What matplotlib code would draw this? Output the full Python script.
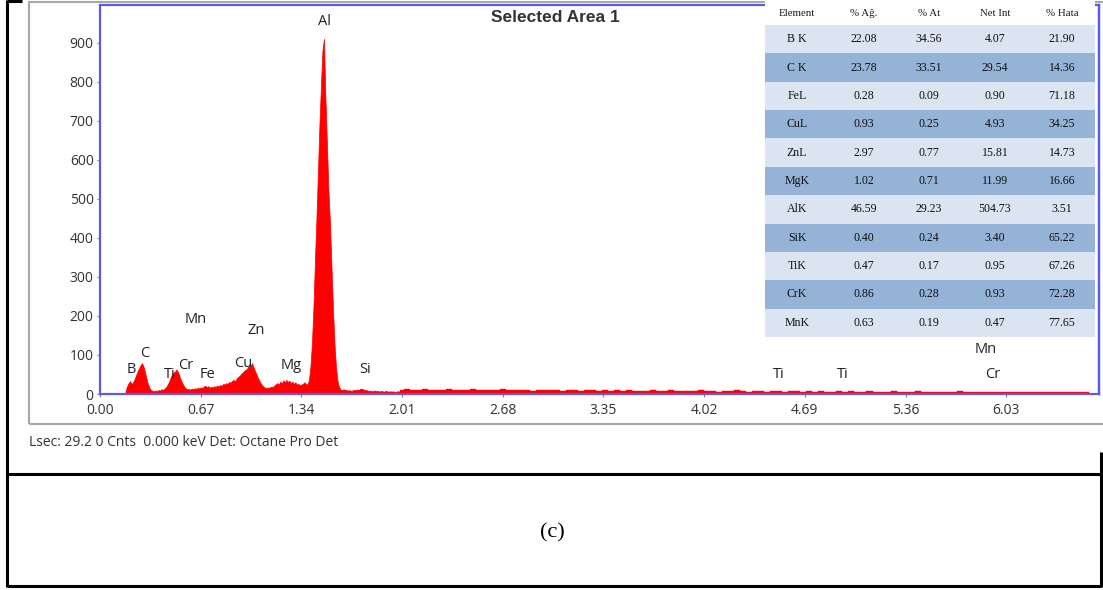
import numpy as np
import matplotlib
matplotlib.use("Agg")
import matplotlib.pyplot as plt
from matplotlib.patches import Rectangle
from matplotlib.lines import Line2D

W, H = 1103, 590

# ---- EDS spectrum (counts per channel) ----
# fine channels: 0.17 .. 1.99 keV, 0.01 keV apart
fine_start, fine_step = 0.17, 0.01
counts_fine = [
    8, 20, 28, 33, 26, 30, 38, 48, 58, 66,          # 0.17-0.26
    74, 79, 70, 55, 38, 24, 15, 10, 8, 7,           # 0.27-0.36
    9, 8, 10, 9, 12, 11, 14, 18, 24, 32,            # 0.37-0.46
    42, 50, 55, 58, 63, 55, 45, 34, 26, 19,         # 0.47-0.56
    15, 12, 13, 11, 14, 12, 15, 13, 16, 14,         # 0.57-0.66
    17, 15, 19, 21, 18, 20, 16, 18, 17, 20,         # 0.67-0.76
    18, 22, 19, 23, 21, 26, 24, 28, 26, 31,         # 0.77-0.86
    29, 34, 36, 33, 40, 44, 47, 52, 55, 60,         # 0.87-0.96
    62, 66, 72, 68, 79, 70, 60, 52, 42, 34,         # 0.97-1.06
    27, 22, 18, 16, 15, 17, 16, 19, 18, 22,         # 1.07-1.16
    25, 28, 24, 32, 27, 35, 30, 36, 31, 34,         # 1.17-1.26
    28, 32, 26, 30, 24, 26, 22, 24, 26, 30,         # 1.27-1.36
    26, 24, 35, 70, 130, 220, 340, 450, 570, 690,   # 1.37-1.46
    790, 880, 910, 760, 640, 520, 440, 330, 220, 130, # 1.47-1.56
    70, 35, 18, 12, 10, 12, 11, 10, 9, 10,          # 1.57-1.66
    8, 9, 11, 9, 12, 10, 13, 14, 12, 11,            # 1.67-1.76
    10, 9, 8, 9, 7, 8, 9, 7, 8, 6,                  # 1.77-1.86
    8, 7, 6, 8, 7, 6, 7, 6, 7, 5,                   # 1.87-1.96
    6, 7, 6,                                        # 1.97-1.99
]
# coarse channels: 2.00 .. 6.60 keV, 0.04 keV apart
coarse_start, coarse_step = 2.00, 0.04
counts_coarse = [
    10, 12, 9, 11, 13, 10, 11, 9, 12, 10,
    11, 9, 12, 10, 9, 11, 10, 12, 9, 10,
    9, 11, 8, 10, 9, 11, 9, 8, 10, 9,
    8, 10, 9, 8, 9, 7, 9, 8, 10, 8,
    8, 7, 9, 8, 7, 9, 8, 7, 8, 7,
    9, 7, 8, 6, 8, 7, 9, 7, 6, 8,
    7, 6, 8, 7, 6, 7, 8, 6, 7, 6,
    7, 6, 5, 7, 6, 7, 5, 6, 7, 6,
    6, 5, 7, 6, 5, 6, 7, 5, 6, 5,
    6, 5, 6, 7, 5, 6, 5, 6, 5, 6,
    5, 6, 5, 6, 5, 5, 6, 5, 4, 5,
    5, 4, 5, 5, 4, 0,
]

# element line labels: (symbol, keV, counts)
peak_labels = [
    ("Al", 1.497, 954), ("B", 0.206, 62), ("C", 0.300, 103),
    ("Ti", 0.466, 51), ("Cr", 0.572, 72), ("Fe", 0.712, 51),
    ("Mn", 0.639, 192), ("Zn", 1.038, 162), ("Cu", 0.951, 79),
    ("Mg", 1.271, 74), ("Si", 1.763, 62), ("Ti", 4.518, 51),
    ("Ti", 4.944, 51), ("Mn", 5.895, 115), ("Cr", 5.941, 49),
]

x_ticks = [0.00, 0.67, 1.34, 2.01, 2.68, 3.35, 4.02, 4.69, 5.36, 6.03]
y_ticks = [0, 100, 200, 300, 400, 500, 600, 700, 800, 900]

# ---- quantification table ----
table_header = ["Element", "% Ağ.", "% At", "Net Int", "% Hata"]
elements = ["B K", "C K", "FeL", "CuL", "ZnL", "MgK", "AlK", "SiK", "TiK", "CrK", "MnK"]
wt_pct = [22.08, 23.78, 0.28, 0.93, 2.97, 1.02, 46.59, 0.40, 0.47, 0.86, 0.63]
at_pct = [34.56, 33.51, 0.09, 0.25, 0.77, 0.71, 29.23, 0.24, 0.17, 0.28, 0.19]
net_int = [4.07, 29.54, 0.90, 4.93, 15.81, 11.99, 504.73, 3.40, 0.95, 0.93, 0.47]
err_pct = [21.90, 14.36, 71.18, 34.25, 14.73, 16.66, 3.51, 65.22, 67.26, 72.28, 77.65]

status_text = "Lsec: 29.2 0 Cnts  0.000 keV Det: Octane Pro Det"
title_text = "Selected Area 1"
caption_text = "(c)"

UI_FONT = ["Open Sans", "DejaVu Sans"]
SERIF = ["Liberation Serif", "DejaVu Serif"]


def fx(px):
    return px / W


def fy(py):
    return 1 - py / H


fig = plt.figure(figsize=(W / 100, H / 100), dpi=100)
fig.patch.set_facecolor("white")

# ---- spectrum axes ----
ax = fig.add_axes([fx(100), fy(394), (1099 - 100) / W, (394 - 5) / H])
e_fine = np.round(fine_start + fine_step * np.arange(len(counts_fine)), 3)
e_coarse = np.round(coarse_start + coarse_step * np.arange(len(counts_coarse)), 3)
ax.fill_between(e_fine, counts_fine, 0, color="#ff0000", lw=0.5, ec="#ff0000")
ax.fill_between(np.r_[e_fine[-1], e_coarse], np.r_[counts_fine[-1], counts_coarse], 0,
                step="mid", color="#ff0000", lw=0.3, ec="#ff0000")

ax.set_xlim(0, 6.647)
ax.set_ylim(0, 997)
ax.set_xticks(x_ticks)
ax.set_xticklabels([f"{v:.2f}" for v in x_ticks])
ax.set_yticks(y_ticks)
ax.set_yticklabels([str(v) for v in y_ticks])
for lab in ax.get_xticklabels() + ax.get_yticklabels():
    lab.set_family(UI_FONT)
    lab.set_fontsize(10)
    lab.set_color("#333333")
ax.tick_params(axis="both", length=2.5, width=0.8, color="#808080")
ax.tick_params(axis="x", pad=4)
ax.tick_params(axis="y", pad=2)
for sp in ax.spines.values():
    sp.set_color("#5a5af0")
    sp.set_linewidth(1.6)

for sym, xe, yc in peak_labels:
    ax.text(xe, yc, sym, ha="center", va="center", fontsize=10.5,
            family=UI_FONT, color="#222222")

# ---- table overlay ----
tx0, tx1, ty0, ty1 = 765, 1095, 0, 337
axt = fig.add_axes([fx(tx0), fy(ty1), (tx1 - tx0) / W, (ty1 - ty0) / H], zorder=5)
axt.set_xlim(tx0, tx1)
axt.set_ylim(ty1, ty0)
axt.axis("off")
axt.add_patch(Rectangle((tx0, ty0), tx1 - tx0, ty1 - ty0, color="white", zorder=0))
col_x = [797, 864, 929, 995, 1062]
header_y = 13
row_top = 25
row_h = (ty1 - row_top) / len(elements)
for cx, name in zip(col_x, table_header):
    axt.text(cx, header_y, name, ha="center", va="center", fontsize=7.8,
             family=SERIF, color="#1a1a1a")
for i, el in enumerate(elements):
    top = row_top + i * row_h
    shade = "#dbe4f0" if i % 2 == 0 else "#95b3d7"
    axt.add_patch(Rectangle((tx0, top), tx1 - tx0, row_h, color=shade, lw=0, zorder=1))
    cells = [el, f"{wt_pct[i]:.2f}", f"{at_pct[i]:.2f}", f"{net_int[i]:.2f}", f"{err_pct[i]:.2f}"]
    for cx, s in zip(col_x, cells):
        axt.text(cx, top + row_h / 2, s, ha="center", va="center", fontsize=8.6,
                 family=SERIF, color="#111111", zorder=2)

# right edge of the spectrum frame stays visible beside the table
fig.add_artist(Line2D([fx(1099), fx(1099)], [fy(5), fy(394)], color="#5a5af0", lw=1.6, zorder=6))

# ---- title, status line, caption ----
fig.text(fx(555), fy(18), title_text, ha="center", va="center", fontsize=12.5,
         fontweight="bold", family=["Liberation Sans", "DejaVu Sans"], color="#333333", zorder=7)
fig.text(fx(29), fy(442), status_text, ha="left", va="center", fontsize=10,
         family=UI_FONT, color="#333333")
fig.text(fx(552), fy(533), caption_text, ha="center", va="center", fontsize=16,
         family=SERIF, color="black")

# ---- light grey window border ----
fig.add_artist(Rectangle((fx(29), fy(424)), (1120 - 29) / W, (424 - 2) / H,
                         transform=fig.transFigure, fill=False, ec="#a8a8a8", lw=1.5))

# ---- black panel frame ----
frame = dict(color="black", lw=2.2, solid_capstyle="butt")
fig.add_artist(Line2D([fx(7), fx(7)], [fy(0), fy(587)], **frame))
fig.add_artist(Line2D([fx(7), fx(22)], [fy(0.5), fy(0.5)], **frame))
fig.add_artist(Line2D([fx(7), fx(1101)], [fy(474), fy(474)], **frame))
fig.add_artist(Line2D([fx(7), fx(1101)], [fy(586), fy(586)], **frame))
fig.add_artist(Line2D([fx(1101), fx(1101)], [fy(452), fy(587)], **frame))

fig.savefig("out.png", dpi=100, facecolor="white")
